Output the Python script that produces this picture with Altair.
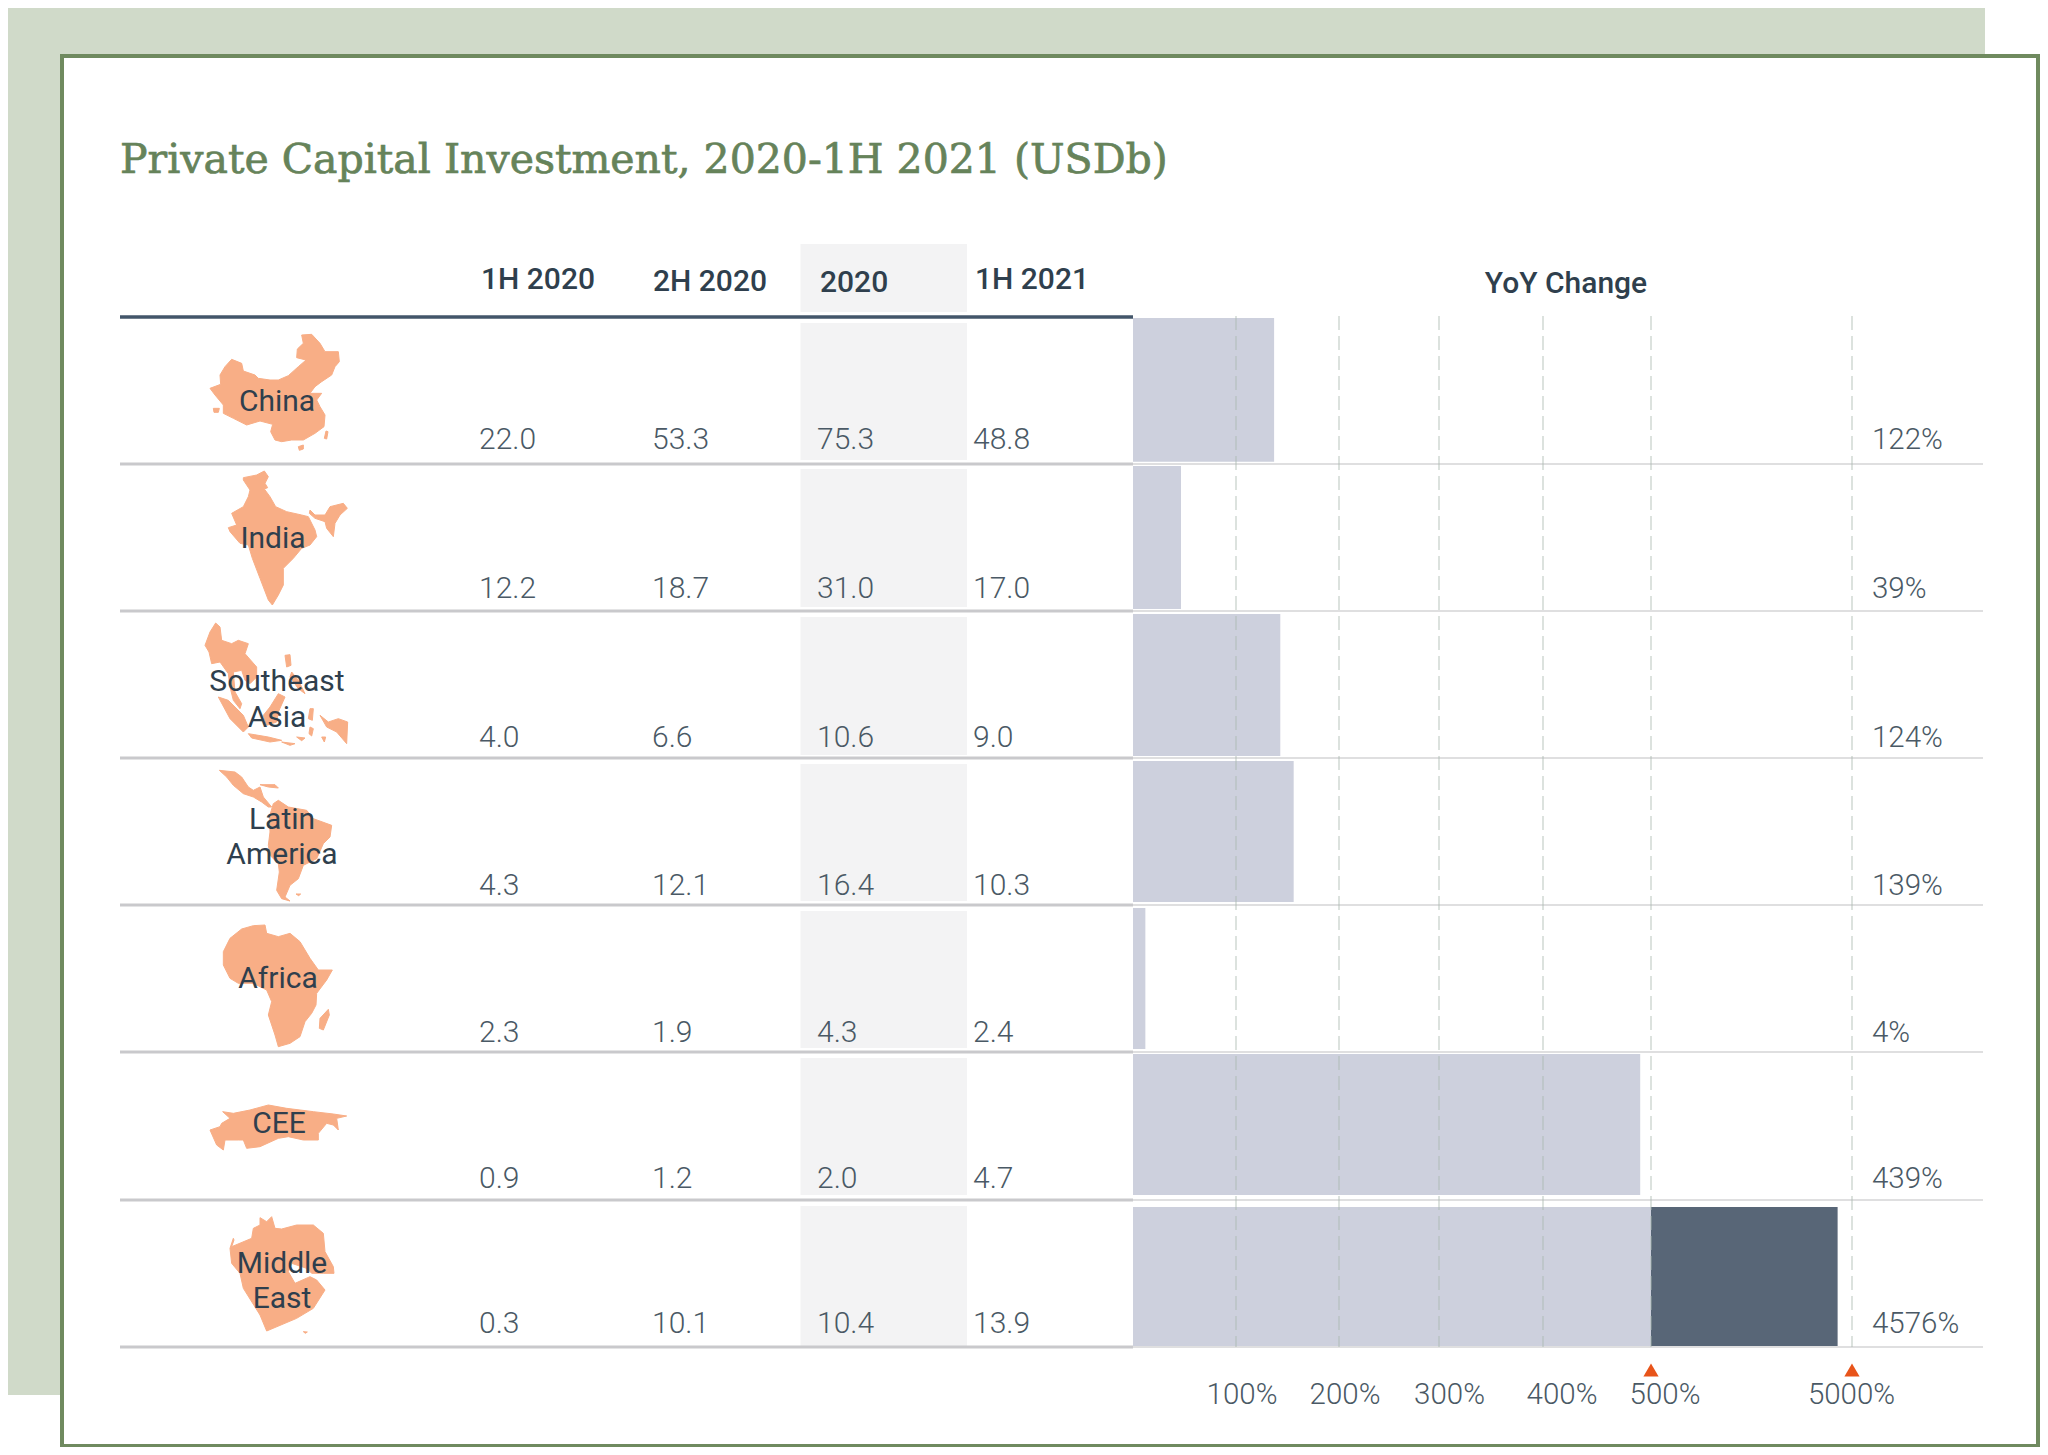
import altair as alt

TITLE = "Private Capital Investment, 2020-1H 2021 (USDb)"
REGION_LINES = ["China", "India", "Southeast", "Asia", "Latin", "America", "Africa", "CEE", "Middle", "East"]
COLUMNS = ["1H 2020", "2H 2020", "2020", "1H 2021"]
V_1H20 = ["22.0", "12.2", "4.0", "4.3", "2.3", "0.9", "0.3"]
V_2H20 = ["53.3", "18.7", "6.6", "12.1", "1.9", "1.2", "10.1"]
V_2020 = ["75.3", "31.0", "10.6", "16.4", "4.3", "2.0", "10.4"]
V_1H21 = ["48.8", "17.0", "9.0", "10.3", "2.4", "4.7", "13.9"]
YOY_LABELS = ["122%", "39%", "124%", "139%", "4%", "439%", "4576%"]
# Bar ends as read against the drawn axis (the picture's bars overshoot their labels slightly)
BAR_REACH = [137, 46.6, 143, 156, 12, 490, 500]
BREAK_START = [500]
BREAK_REACH = [4678]
TICKS = [100, 200, 300, 400, 500, 5000]
BREAK_TICKS = [500, 5000]

# --- outlines (units: crop pixels at 3x) ---
MAPS = [
 ((200, 325), [
  [(30,190),(62,178),(60,150),(75,125),(95,103),(125,115),(130,138),(165,150),(175,160),(210,165),(235,165),(265,152),(295,125),(318,105),(290,98),(292,72),(310,55),(305,30),(335,28),(360,55),(375,80),(415,80),(418,110),(405,125),(395,150),(365,170),(345,185),(330,205),(365,205),(350,225),(360,245),(375,270),(372,305),(345,325),(310,345),(275,345),(245,350),(225,345),(212,320),(218,298),(180,288),(140,300),(100,280),(70,265),(70,240),(45,210)],
  [(295,365),(310,360),(310,372),(298,376)],
  [(378,318),(384,320),(380,342),(373,340)],
  [(40,250),(58,250),(55,262),(42,262)],
 ]),
 ((215, 465), [
  [(85,38),(125,30),(148,18),(160,35),(150,55),(158,68),(148,72),(165,95),(182,125),(215,140),(260,150),(280,155),(300,195),(305,215),(285,240),(260,250),(235,280),(205,310),(205,360),(190,390),(172,420),(160,405),(135,340),(112,280),(100,240),(75,235),(45,200),(40,188),(65,180),(50,145),(85,125),(100,95),(105,75),(85,45)],
  [(285,135),(300,150),(330,150),(345,125),(385,115),(397,130),(375,150),(360,175),(355,215),(335,190),(330,170),(300,160),(283,145)],
 ]),
 ((195, 612), [
  [(30,100),(45,60),(62,33),(75,45),(80,85),(110,95),(130,85),(160,95),(150,125),(185,165),(185,195),(165,215),(150,205),(140,175),(115,180),(120,240),(140,275),(135,290),(115,265),(105,225),(100,185),(75,150),(50,155),(42,120)],
  [(270,130),(285,128),(288,160),(275,165)],
  [(290,180),(310,205),(330,245),(310,230),(285,195)],
  [(70,255),(100,265),(145,310),(160,345),(145,360),(105,320)],
  [(250,245),(270,255),(250,300),(245,330),(215,340),(205,310),(225,285)],
  [(160,365),(220,375),(260,385),(225,390),(170,378)],
  [(260,390),(300,395),(285,400)],
  [(345,290),(355,290),(352,325),(340,320)],
  [(375,310),(400,330),(430,320),(458,330),(455,395),(425,360),(395,345)],
  [(305,375),(330,378),(320,386)],
  [(345,345),(355,350),(350,372),(342,365)],
  [(380,375),(392,375),(388,390)],
 ]),
 ((210, 762), [
  [(28,25),(75,30),(95,45),(115,75),(130,85),(150,75),(160,105),(185,135),(175,135),(155,120),(130,105),(100,95),(70,70),(50,45)],
  [(190,125),(205,115),(235,135),(290,145),(310,170),(365,190),(360,225),(340,245),(320,290),(280,310),(265,350),(240,370),(225,405),(240,417),(215,410),(200,385),(208,330),(205,305),(180,280),(175,250),(180,210),(178,165)],
  [(150,68),(195,68),(205,78),(175,75)],
  [(258,396),(272,396),(266,401)],
 ]),
 ((210, 915), [
  [(40,110),(60,70),(95,42),(130,32),(165,30),(170,55),(205,65),(240,55),(270,80),(300,130),(325,165),(367,165),(350,195),(320,235),(318,270),(305,295),(285,320),(270,365),(240,385),(205,395),(195,360),(175,300),(185,260),(170,225),(130,205),(85,205),(60,190),(40,150)],
  [(355,283),(358,300),(340,345),(328,340),(330,310)],
 ]),
 ((200, 1090), [
  [(30,120),(60,110),(65,100),(90,85),(68,65),(100,70),(150,60),(205,45),(260,55),(340,65),(400,72),(440,78),(410,85),(415,120),(400,105),(380,100),(355,130),(355,150),(310,150),(265,140),(235,145),(180,170),(140,175),(130,150),(115,150),(75,150),(70,180),(50,165)],
 ]),
 ((210, 1205), [
  [(60,130),(70,100),(72,105),(65,125),(125,100),(130,70),(150,60),(150,38),(170,50),(185,35),(195,70),(215,72),(260,60),(310,60),(340,85),(345,140),(370,185),(372,205),(340,205),(305,205),(290,190),(245,175),(235,200),(255,235),(300,215),(320,225),(345,255),(310,310),(260,340),(170,378),(150,330),(100,250),(90,205),(65,175)],
  [(280,380),(292,381),(286,385)],
 ]),
]

M = 8  # page margin
W, H = 2032, 1439
def r(lst):
    return [v - M for v in lst]

def hidden(field, domain, rng):
    return dict(shorthand=field, scale=alt.Scale(domain=domain, range=r(rng), zero=False, nice=False), axis=None)

FONT = "Roboto"
DARK = "#2f3f4d"
GREY = "#4a5965"
ORANGE = "#f8ae86"

# scales (reference pixel positions)
ROW_IDX = list(range(8))
RULE_Y = [317, 464, 611, 758, 905, 1052, 1200, 1347]
EDGE_IDX = list(range(14))
BAR_EDGES = [318, 461.7, 466, 609, 614, 756, 761, 902, 908, 1049, 1054, 1195, 1207, 1347]
SHADE_EDGES = [323, 460, 469, 607, 617, 755, 764, 901, 911, 1048, 1058, 1195, 1206, 1346]
VALUE_Y = [440, 589, 738, 886, 1033, 1179, 1324]
COL_X = [479, 652, 817, 973]
HEAD_X = [481, 653, 820, 975]
HEAD_Y = [280, 282, 283, 280]
AX_DOM = [0, 100, 200, 300, 400, 500, 5000]
AX_RNG = [1133, 1236, 1339, 1439, 1543, 1651, 1852]
LABEL_X = [1242, 1345, 1449.5, 1562, 1665, 1851.5]
LINE_X = [277, 273, 277, 277, 282, 282, 278, 279, 282, 282]
LINE_Y = [402, 539, 682, 718, 820, 855, 979, 1124, 1264, 1299]

n = len(V_1H20)
rows = list(range(n))

def rect_px(x0, x1, y0, y1, **mark):
    return alt.Chart(alt.Data(values=[{"a": 0}])).mark_rect(**mark).encode(
        x=alt.value(x0 - M), x2=alt.value(x1 - M), y=alt.value(y0 - M), y2=alt.value(y1 - M))

layers = []
# backing panel and frame
layers.append(rect_px(8, 1985, 8, 1395, fill="#d0dac9"))
layers.append(rect_px(62, 2038, 56, 1446, fill="#ffffff", stroke="#6f8a5f", strokeWidth=4))
# title
layers.append(alt.Chart(alt.Data(values=[{"t": TITLE}])).mark_text(
    font="DejaVu Serif", fontSize=41, color="#66835a", stroke="#66835a", strokeWidth=0.7,
    align="left", baseline="alphabetic"
).encode(x=alt.value(120 - M), y=alt.value(173 - M), text="t:N"))
# shaded 2020 column
layers.append(rect_px(800.5, 967, 244, 312, fill="#f3f3f4"))
layers.append(alt.Chart(alt.Data(values=[{"top": 2 * i, "bot": 2 * i + 1} for i in rows])).mark_rect(fill="#f3f3f4").encode(
    x=alt.value(800.5 - M), x2=alt.value(967 - M),
    y=alt.Y(**hidden("top:Q", EDGE_IDX, SHADE_EDGES)), y2="bot:Q"))
# bars
bars = [{"row": i, "top": 2 * i, "bot": 2 * i + 1, "v0": 0, "v1": BAR_REACH[i]} for i in rows]
layers.append(alt.Chart(alt.Data(values=bars)).mark_rect(fill="#cdd0dd").encode(
    x=alt.X(**hidden("v0:Q", AX_DOM, AX_RNG)), x2="v1:Q",
    y=alt.Y(**hidden("top:Q", EDGE_IDX, BAR_EDGES)), y2="bot:Q"))
dark = [{"top": 2 * (n - 1), "bot": 2 * (n - 1) + 1, "v0": BREAK_START[0], "v1": BREAK_REACH[0]}]
layers.append(alt.Chart(alt.Data(values=dark)).mark_rect(fill="#586677").encode(
    x=alt.X(**hidden("v0:Q", AX_DOM, AX_RNG)), x2="v1:Q",
    y=alt.Y(**hidden("top:Q", EDGE_IDX, BAR_EDGES)), y2="bot:Q"))
# row rules
hr = [{"i": i} for i in ROW_IDX[1:]]
layers.append(alt.Chart(alt.Data(values=hr)).mark_rule(color="#dfdfe0", strokeWidth=2).encode(
    y=alt.Y(**hidden("i:Q", ROW_IDX, RULE_Y)), x=alt.value(1133 - M), x2=alt.value(1983 - M)))
layers.append(alt.Chart(alt.Data(values=hr)).mark_rule(color="#c9c9cc", strokeWidth=3).encode(
    y=alt.Y(**hidden("i:Q", ROW_IDX, RULE_Y)), x=alt.value(120 - M), x2=alt.value(1133 - M)))
layers.append(alt.Chart(alt.Data(values=[{"i": 0}])).mark_rule(color="#43566a", strokeWidth=3.5).encode(
    y=alt.Y(**hidden("i:Q", ROW_IDX, RULE_Y)), x=alt.value(120 - M), x2=alt.value(1133 - M)))
# dashed grid
layers.append(alt.Chart(alt.Data(values=[{"t": t} for t in TICKS])).mark_rule(
    color="#a9b8ae", opacity=0.55, strokeWidth=1.5, strokeDash=[14, 6]).encode(
    x=alt.X(**hidden("t:Q", AX_DOM, AX_RNG)), y=alt.value(316 - M), y2=alt.value(1347 - M)))
# maps
features = []
for (ox, oy), polys in MAPS:
    coords = []
    for p in polys:
        ring = [[ox + a / 3 - M, oy + b / 3 - M] for a, b in p]
        ring.append(ring[0])
        coords.append([ring])
    features.append({"type": "Feature", "properties": {}, "geometry": {"type": "MultiPolygon", "coordinates": coords}})
layers.append(alt.Chart(alt.Data(values=features)).mark_geoshape(
    fill=ORANGE, stroke=ORANGE, strokeWidth=1, strokeJoin="round").project(
    type="identity", scale=1, translate=[0, 0]))
# region labels
lines = [{"i": i, "t": t} for i, t in enumerate(REGION_LINES)]
idx = list(range(len(REGION_LINES)))
layers.append(alt.Chart(alt.Data(values=lines)).mark_text(font=FONT, fontSize=30, color=DARK, align="center", baseline="middle").encode(
    x=alt.X(**hidden("i:Q", idx, LINE_X)), y=alt.Y(**hidden("i:Q", idx, LINE_Y)), text="t:N"))
# headers
heads = [{"c": i, "t": t} for i, t in enumerate(COLUMNS)]
layers.append(alt.Chart(alt.Data(values=heads)).mark_text(font=FONT, fontSize=30, fontWeight=500, color=DARK, align="left", baseline="middle").encode(
    x=alt.X(**hidden("c:Q", [0, 1, 2, 3], HEAD_X)), y=alt.Y(**hidden("c:Q", [0, 1, 2, 3], HEAD_Y)), text="t:N"))
layers.append(alt.Chart(alt.Data(values=[{"t": "YoY Change"}])).mark_text(font=FONT, fontSize=30, fontWeight=500, color=DARK, align="center", baseline="middle").encode(
    x=alt.value(1566 - M), y=alt.value(284 - M), text="t:N"))
# table values
cells = []
for c, col in enumerate([V_1H20, V_2H20, V_2020, V_1H21]):
    for i, v in enumerate(col):
        cells.append({"c": c, "row": i, "t": v})
layers.append(alt.Chart(alt.Data(values=cells)).mark_text(font=FONT, fontSize=30, fontWeight=300, color=GREY, align="left", baseline="middle").encode(
    x=alt.X(**hidden("c:Q", [0, 1, 2, 3], COL_X)), y=alt.Y(**hidden("row:Q", rows, VALUE_Y)), text="t:N"))
# YoY labels
layers.append(alt.Chart(alt.Data(values=[{"row": i, "t": t} for i, t in enumerate(YOY_LABELS)])).mark_text(
    font=FONT, fontSize=29.5, fontWeight=300, color=GREY, align="left", baseline="middle").encode(
    x=alt.value(1872 - M), y=alt.Y(**hidden("row:Q", rows, VALUE_Y)), text="t:N"))
# axis labels
layers.append(alt.Chart(alt.Data(values=[{"t": t, "s": f"{t}%"} for t in TICKS])).mark_text(
    font=FONT, fontSize=29.5, fontWeight=300, color=GREY, align="center", baseline="middle").encode(
    x=alt.X(**hidden("t:Q", TICKS, LABEL_X)), y=alt.value(1395 - M), text="s:N"))
# break markers
layers.append(alt.Chart(alt.Data(values=[{"t": t} for t in BREAK_TICKS])).mark_point(
    shape="triangle-up", filled=True, fill="#e8541a", opacity=1, size=230).encode(
    x=alt.X(**hidden("t:Q", AX_DOM, AX_RNG)), y=alt.value(1370 - M)))

chart = alt.layer(*layers).resolve_scale(x="independent", y="independent").properties(
    width=W, height=H, padding=0, autosize=alt.AutoSizeParams(type="none"),
).configure_view(stroke=None)

chart.save("out.html", embed_options={"renderer": "svg", "actions": False})
